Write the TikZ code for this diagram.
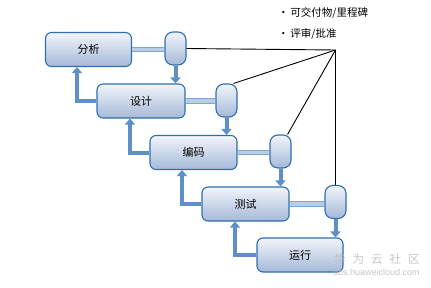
\documentclass[tikz,border=0pt]{standalone}
\usepackage{fontspec}
\setmainfont{Noto Sans CJK SC}
\setsansfont{Liberation Sans}
\usetikzlibrary{arrows.meta}
\definecolor{boxedge}{HTML}{2E6FB0}
\definecolor{boxtop}{HTML}{F2F5FB}
\definecolor{boxbot}{HTML}{A5B9D8}
\definecolor{barfill}{HTML}{B8CEE8}
\definecolor{baredge}{HTML}{7FA6D2}
\definecolor{arrowblue}{HTML}{5E8FC8}
\definecolor{arrowdark}{HTML}{3E6EA8}
\tikzset{
  phase/.style={draw=boxedge, line width=1.1pt, rounded corners=6pt,
    top color=boxtop, bottom color=boxbot, minimum width=86pt, minimum height=34pt,
    inner sep=0pt, font=\fontsize{11}{12}\selectfont},
  gate/.style={draw=boxedge, line width=1.1pt, rounded corners=8pt,
    top color=boxtop, bottom color=boxbot, minimum width=21pt, minimum height=33pt, inner sep=0pt},
  bar/.style={draw=baredge, line width=0.8pt, double=barfill, double distance=3.5pt},
  downarrow/.style={draw=arrowblue, line width=4pt, -{Triangle[width=10pt,length=6pt]}},
  backarrow/.style={draw=arrowblue, line width=4pt, -{Triangle[width=10pt,length=6pt]}},
  link/.style={draw=black, line width=0.9pt},
  legend/.style={anchor=west, inner sep=0pt, font=\fontsize{10.5}{12}\selectfont}
}
\begin{document}
\begin{tikzpicture}[x=1pt,y=-1pt]
\useasboundingbox[fill=white] (0,0) rectangle (431,287);
% phases
\node[phase] (a) at (88.5,49.5) {分析};
\node[phase, minimum width=88pt] (b) at (141,101) {设计};
\node[phase, minimum width=87pt] (c) at (193.5,152.5) {编码};
\node[phase, minimum width=87pt] (d) at (245.5,204) {测试};
\node[phase] (e) at (300,255) {运行};
% gates
\node[gate] (g1) at (175.5,48.5) {};
\node[gate] (g2) at (226.5,100.5) {};
\node[gate] (g3) at (280.5,151.5) {};
\node[gate] (g4) at (335.5,202) {};
% bars
\draw[bar] (a.east) -- (g1.west |- a.east);
\draw[bar] (b.east) -- (g2.west |- b.east);
\draw[bar] (c.east) -- (g3.west |- c.east);
\draw[bar] (d.east) -- (g4.west |- d.east);
% down arrows
\draw[downarrow] (g1.south) -- (g1.south |- b.north);
\draw[downarrow] (g2.south) -- (g2.south |- c.north);
\draw[downarrow] (g3.south) -- (g3.south |- d.north);
\draw[downarrow] (g4.south) -- (g4.south |- e.north);
% feedback arrows
\draw[backarrow] (b.west) -| ([xshift=-11.5pt]a.south);
\draw[backarrow] (c.west) -| ([xshift=-11pt]b.south);
\draw[backarrow] (d.west) -| ([xshift=-11.5pt]c.south);
\draw[backarrow] (e.west) -| ([xshift=-10.5pt]d.south);
% review lines
\coordinate (apex) at (335.5,50);
\draw[link] (g1.east) -- (apex);
\draw[link] ([xshift=-4pt]g2.north east) -- (apex);
\draw[link] ([xshift=-4pt]g3.north east) -- (apex);
\draw[link] (g4.north) -- (apex);
% legend
\node[legend] (l1) at (278,13) {•\,可交付物/里程碑};
\node[legend] (l2) at (278,34) {•\,评审/批准};
% watermark
\node[anchor=west, inner sep=0pt, text=gray!55, opacity=0.8, font=\fontsize{11.5}{12}\selectfont] (w1) at (334,259) {华\hspace{7pt}为\hspace{7pt}云\hspace{7pt}社\hspace{7pt}区};
\node[anchor=west, inner sep=0pt, text=gray!55, opacity=0.8, font=\sffamily\fontsize{9}{10}\selectfont] (w2) at (333,272) {bbs.huaweicloud.com};
\end{tikzpicture}
\end{document}
